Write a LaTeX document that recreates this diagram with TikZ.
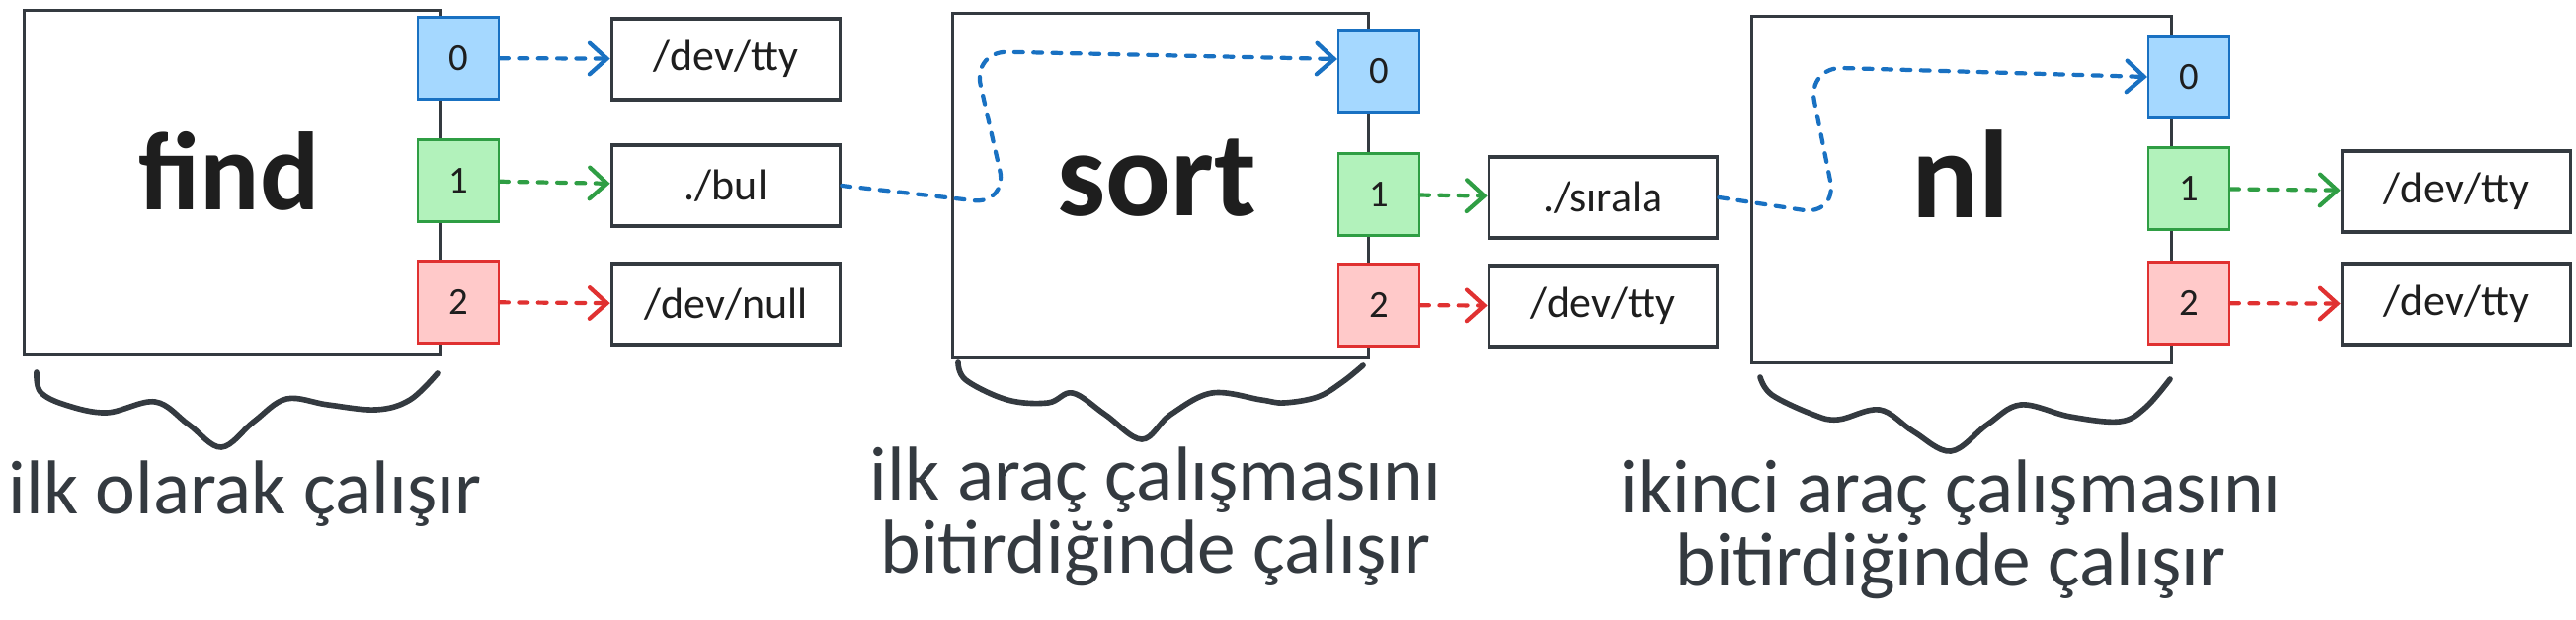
\documentclass[tikz,border=0pt]{standalone}
\usepackage{fontspec}
\setmainfont{Carlito}
\usetikzlibrary{arrows.meta}

\definecolor{ink}{HTML}{1E1E1E}
\definecolor{pencil}{HTML}{343A40}
\definecolor{stdinfill}{HTML}{A5D8FF}
\definecolor{stdinline}{HTML}{1971C2}
\definecolor{stdoutfill}{HTML}{B2F2BB}
\definecolor{stdoutline}{HTML}{2F9E44}
\definecolor{stderrfill}{HTML}{FFC9C9}
\definecolor{stderrline}{HTML}{E03131}

\begin{document}
\begin{tikzpicture}[x=0.01cm, y=-0.01cm,
    proc/.style={draw=pencil, line width=0.8pt, minimum width=4.2cm, minimum height=3.49cm, inner sep=0pt},
    procname/.style={anchor=base, text=ink, font=\bfseries\fontsize{#1}{40pt}\selectfont},
    procname/.default=32pt,
    fd/.style={draw=#1line, fill=#1fill, line width=0.6pt, minimum width=0.82cm, minimum height=0.83cm, inner sep=0pt, text=ink, font=\fontsize{11pt}{13pt}\selectfont},
    file/.style={draw=pencil, line width=1pt, minimum width=2.31cm, minimum height=0.82cm, inner sep=0pt, text=ink, font=\fontsize{12.5pt}{15pt}\selectfont},
    redirect/.style={draw=#1line, line width=1.2pt, line cap=round, dash pattern=on 2.5pt off 3pt, -{Straight Barb[length=5pt, width=9pt, line cap=round]}},
    brace/.style={draw=pencil, line width=1.6pt, line cap=round, line join=round},
    note/.style={align=center, text=pencil, font=\fontsize{22pt}{21pt}\selectfont}]
    \useasboundingbox (0,0) rectangle (2608,627);

    % find
    \node[proc] (find) at (235,185) {};
    \node[procname] (findname) at (232,212) {find};
    \node[fd=stdin] (f0) at (464,59) {0};
    \node[fd=stdout] (f1) at (464,183) {1};
    \node[fd=stderr] (f2) at (464,306) {2};
    \node[file] (ftty) at (735,60) {/dev/tty};
    \node[file] (fbul) at (735,188) {./bul};
    \node[file] (fnull) at (735,308) {/dev/null};
    \draw[redirect=stdin] (f0) -- (ftty);
    \draw[redirect=stdout] (f1) -- (fbul);
    \draw[redirect=stderr] (f2) -- (fnull);

    % sort
    \node[proc] (sort) at (1175,188) {};
    \node[procname=35pt] (sortname) at (1171,218) {sort};
    \node[fd=stdin] (s0) at (1396,72) {0};
    \node[fd=stdout] (s1) at (1396,197) {1};
    \node[fd=stderr] (s2) at (1396,309) {2};
    \node[file] (ssirala) at (1623,200) {./sırala};
    \node[file] (stty) at (1623,310) {/dev/tty};
    \draw[redirect=stdout] (s1) -- (ssirala);
    \draw[redirect=stderr] (s2) -- (stty);
    \draw[redirect=stdin, rounded corners=0.35cm] (fbul.east) -- (1020,207) -- (985,52) -- ([yshift=0.12cm]s0.west);

    % nl
    \node[proc, minimum width=4.24cm, minimum height=3.5cm] (nl) at (1986,192) {};
    \node[procname=36pt] (nlname) at (1985,220) {nl};
    \node[fd=stdin] (n0) at (2216,78) {0};
    \node[fd=stdout] (n1) at (2216,191) {1};
    \node[fd=stderr] (n2) at (2216,307) {2};
    \node[file] (ntty) at (2487,194) {/dev/tty};
    \node[file] (nerr) at (2487,308) {/dev/tty};
    \draw[redirect=stdout] (n1) -- (ntty);
    \draw[redirect=stderr] (n2) -- (nerr);
    \draw[redirect=stdin, rounded corners=0.35cm] (ssirala.east) -- (1860,218) -- (1830,68) -- (n0.west);

    % braces
    \draw[brace] plot[smooth, tension=0.6] coordinates {(37,377) (41,397) (66,410) (108,418) (157,407) (191,430) (224,453) (257,427) (290,404) (332,410) (381,415) (415,405) (443,378)};
    \draw[brace] plot[smooth, tension=0.6] coordinates {(970,367) (978,385) (1020,405) (1061,408) (1086,398) (1119,420) (1156,445) (1185,420) (1227,398) (1277,405) (1300,408) (1334,402) (1359,387) (1380,370)};
    \draw[brace] plot[smooth, tension=0.6] coordinates {(1782,382) (1794,400) (1836,420) (1861,425) (1903,415) (1937,437) (1975,457) (2012,430) (2046,410) (2096,422) (2146,427) (2172,413) (2197,384)};

    % notes, base = last line
    \node[note, anchor=base] (findnote) at (248,520) {ilk olarak çalışır};
    \node[note, anchor=base] (sortnote) at (1170,580) {ilk araç çalışmasını\\bitirdiğinde çalışır};
    \node[note, anchor=base] (nlnote) at (1975,593) {ikinci araç çalışmasını\\bitirdiğinde çalışır};
  \end{tikzpicture}
\end{document}
